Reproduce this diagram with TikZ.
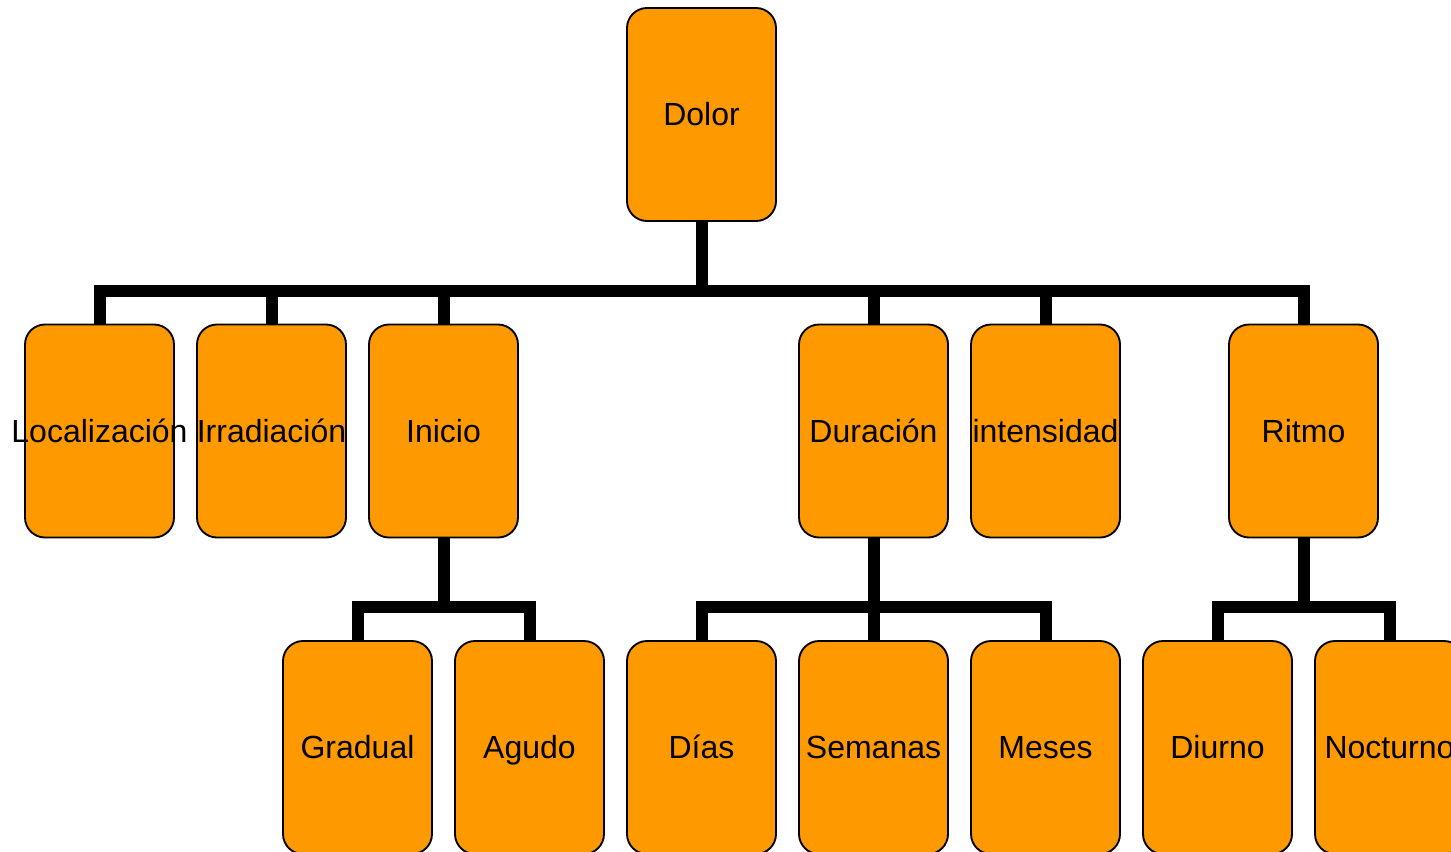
\documentclass[tikz,border=0pt]{standalone}
\usepackage{fontspec}
\setmainfont{Liberation Sans}
\definecolor{boxorange}{HTML}{FF9900}
\begin{document}
\begin{tikzpicture}[x=0.75pt,y=-0.75pt,
  box/.style={draw=black,line width=1.4pt,fill=boxorange,rounded corners=15pt,
    minimum width=149*0.75pt,minimum height=213*0.75pt,inner sep=0pt,
    font=\fontsize{24}{28}\selectfont,text height=17.2pt,text depth=0pt},
  conn/.style={line width=9pt,line join=miter,line cap=butt,draw=black}]
\clip (0,0) rectangle (1451,851);
\useasboundingbox (0,0) rectangle (1451,851);
% root
\node[box] (dolor) at (701.5,114.5) {\makebox[0pt]{Dolor}};
% level 2
\node[box] (loc) at (99.5,431) {\makebox[0pt]{Localización}};
\node[box] (irr) at (271.5,431) {\makebox[0pt]{Irradiación}};
\node[box] (ini) at (443.5,431) {\makebox[0pt]{Inicio}};
\node[box] (dur) at (873.5,431) {\makebox[0pt]{Duración}};
\node[box] (int) at (1045.5,431) {\makebox[0pt]{intensidad}};
\node[box] (rit) at (1303.5,431) {\makebox[0pt]{Ritmo}};
% level 3
\node[box] (gra) at (357.5,747.5) {\makebox[0pt]{Gradual}};
\node[box] (agu) at (529.5,747.5) {\makebox[0pt]{Agudo}};
\node[box] (dia) at (701.5,747.5) {\makebox[0pt]{Días}};
\node[box] (sem) at (873.5,747.5) {\makebox[0pt]{Semanas}};
\node[box] (mes) at (1045.5,747.5) {\makebox[0pt]{Meses}};
\node[box] (diu) at (1217.5,747.5) {\makebox[0pt]{Diurno}};
\node[box] (noc) at (1389.5,747.5) {\makebox[0pt]{Nocturno}};
% bus coordinates
\coordinate (b1) at (701.5,291);
\coordinate (b2) at (443.5,607);
\coordinate (b3) at (873.5,607);
\coordinate (b4) at (1303.5,607);
% connectors
\foreach \c in {loc,irr,ini,dur,int,rit}
  \draw[conn] (dolor.south) -- (b1) -| (\c.north);
\foreach \c in {gra,agu}
  \draw[conn] (ini.south) -- (b2) -| (\c.north);
\foreach \c in {dia,sem,mes}
  \draw[conn] (dur.south) -- (b3) -| (\c.north);
\foreach \c in {diu,noc}
  \draw[conn] (rit.south) -- (b4) -| (\c.north);
\end{tikzpicture}
\end{document}
